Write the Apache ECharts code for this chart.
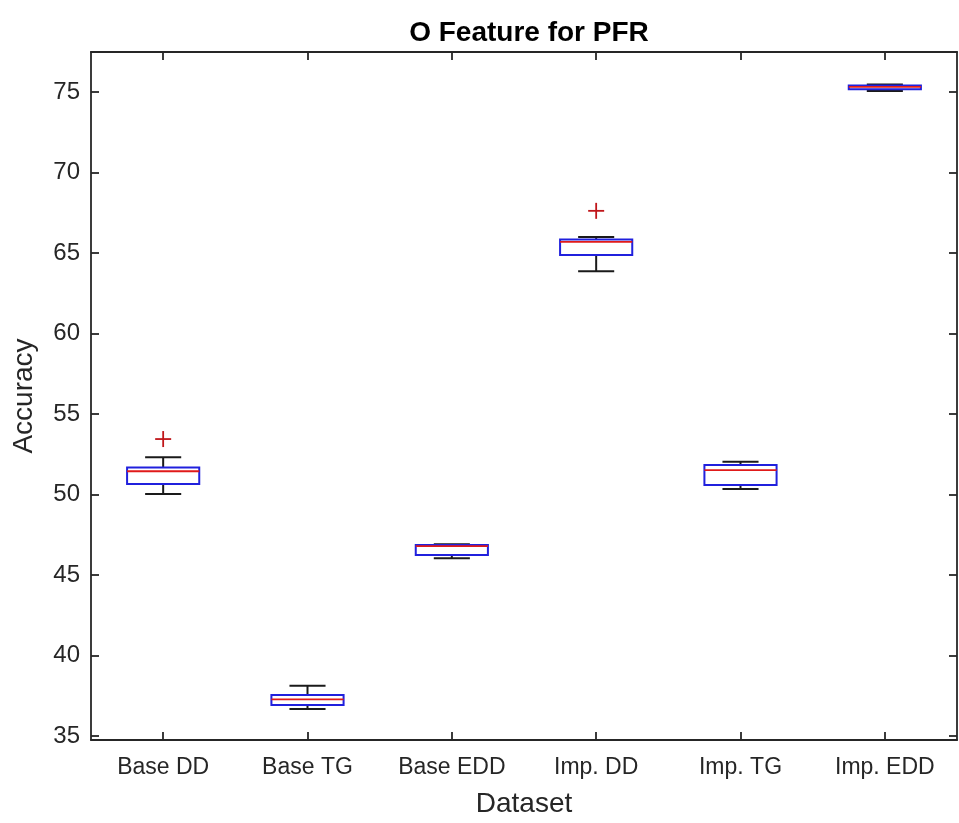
<!DOCTYPE html>
<html>
<head>
<meta charset="utf-8">
<style>
  html, body { margin: 0; padding: 0; background: #fff; }
  #chart { width: 959px; height: 823px; }
</style>
<script src="https://cdn.jsdelivr.net/npm/echarts@6/dist/echarts.min.js"></script>
</head>
<body>
<div id="chart"></div>
<script>
// ---- data ----
var categories = ['Base DD', 'Base TG', 'Base EDD', 'Imp. DD', 'Imp. TG', 'Imp. EDD'];
var lowerWhisker = [50.03, 36.68, 46.04, 63.88, 50.34, 75.08];
var q1 = [50.65, 36.92, 46.25, 64.88, 50.60, 75.18];
var median = [51.45, 37.27, 46.80, 65.70, 51.52, 75.33];
var q3 = [51.68, 37.55, 46.87, 65.85, 51.83, 75.42];
var upperWhisker = [52.32, 38.12, 46.92, 66.00, 52.04, 75.48];
var outlierCat = [0, 3];
var outlierVal = [53.45, 67.63];
var yTicks = [35, 40, 45, 50, 55, 60, 65, 70, 75];

var boxData = categories.map(function (c, i) {
  return [i, lowerWhisker[i], q1[i], median[i], q3[i], upperWhisker[i]];
});
var outlierData = outlierCat.map(function (c, i) { return [c, outlierVal[i]]; });

var FONT = "'Liberation Sans', Arial, Helvetica, sans-serif";
var AXIS_COLOR = '#262626';

function renderBox(params, api) {
  var idx = api.value(0);
  var band = api.size([1, 0])[0];
  var halfBox = band * 0.25;
  var halfCap = band * 0.125;
  var pLo = api.coord([idx, api.value(1)]);
  var pQ1 = api.coord([idx, api.value(2)]);
  var pMed = api.coord([idx, api.value(3)]);
  var pQ3 = api.coord([idx, api.value(4)]);
  var pHi = api.coord([idx, api.value(5)]);
  var cx = pQ1[0];
  var blk = { stroke: '#1a1a1a', lineWidth: 2 };
  return {
    type: 'group',
    children: [
      { type: 'line', shape: { x1: cx, y1: pQ3[1], x2: cx, y2: pHi[1] }, style: blk },
      { type: 'line', shape: { x1: cx, y1: pQ1[1], x2: cx, y2: pLo[1] }, style: blk },
      { type: 'line', shape: { x1: cx - halfCap, y1: pHi[1], x2: cx + halfCap, y2: pHi[1] }, style: blk },
      { type: 'line', shape: { x1: cx - halfCap, y1: pLo[1], x2: cx + halfCap, y2: pLo[1] }, style: blk },
      { type: 'rect', shape: { x: cx - halfBox, y: pQ3[1], width: halfBox * 2, height: pQ1[1] - pQ3[1] },
        style: { fill: '#ffffff', stroke: '#2020dd', lineWidth: 2 } },
      { type: 'line', shape: { x1: cx - halfBox, y1: pMed[1], x2: cx + halfBox, y2: pMed[1] },
        style: { stroke: '#e01a1a', lineWidth: 1.8 } }
    ]
  };
}

function renderOutlier(params, api) {
  var p = api.coord([api.value(0), api.value(1)]);
  var r = 8;
  var st = { stroke: '#c0161a', lineWidth: 1.8 };
  return {
    type: 'group',
    children: [
      { type: 'line', shape: { x1: p[0] - r, y1: p[1], x2: p[0] + r, y2: p[1] }, style: st },
      { type: 'line', shape: { x1: p[0], y1: p[1] - r, x2: p[0], y2: p[1] + r }, style: st }
    ]
  };
}

var chart = echarts.init(document.getElementById('chart'), null, { renderer: 'canvas' });
var axisLineStyle = { color: AXIS_COLOR, width: 1.8 };
chart.setOption({
  backgroundColor: '#ffffff',
  animation: false,
  title: {
    text: 'O Feature for PFR',
    left: 524, top: 14, textAlign: 'center',
    textStyle: { fontFamily: FONT, fontSize: 28, fontWeight: 'bold', color: '#000000' }
  },
  grid: { left: 91, right: 2, top: 52, bottom: 82 },
  xAxis: [{
    type: 'category',
    data: categories,
    position: 'bottom',
    boundaryGap: true,
    name: 'Dataset',
    nameLocation: 'middle',
    nameGap: 50,
    nameTextStyle: { fontFamily: FONT, fontSize: 28, color: AXIS_COLOR },
    axisLine: { show: true, lineStyle: axisLineStyle },
    axisTick: { show: true, inside: true, alignWithLabel: true, length: 8, lineStyle: axisLineStyle },
    axisLabel: { fontFamily: FONT, fontSize: 23, color: AXIS_COLOR, margin: 16, interval: 0 },
    splitLine: { show: false }
  }, {
    type: 'category',
    data: categories,
    position: 'top',
    boundaryGap: true,
    axisLine: { show: true, lineStyle: axisLineStyle },
    axisTick: { show: true, inside: true, alignWithLabel: true, length: 8, lineStyle: axisLineStyle },
    axisLabel: { show: false },
    splitLine: { show: false }
  }],
  yAxis: [{
    type: 'value',
    min: 34.75, max: 77.5,
    position: 'left',
    name: 'Accuracy',
    nameLocation: 'middle',
    nameGap: 53,
    nameRotate: 90,
    nameTextStyle: { fontFamily: FONT, fontSize: 28, color: AXIS_COLOR },
    axisLine: { show: true, lineStyle: axisLineStyle },
    axisTick: { show: true, inside: true, length: 8, customValues: yTicks, lineStyle: axisLineStyle },
    axisLabel: { fontFamily: FONT, fontSize: 24, color: AXIS_COLOR, margin: 11, customValues: yTicks },
    splitLine: { show: false }
  }, {
    type: 'value',
    min: 34.75, max: 77.5,
    position: 'right',
    axisLine: { show: true, lineStyle: axisLineStyle },
    axisTick: { show: true, inside: true, length: 8, customValues: yTicks, lineStyle: axisLineStyle },
    axisLabel: { show: false },
    splitLine: { show: false }
  }],
  series: [{
    type: 'custom',
    xAxisIndex: 0, yAxisIndex: 0,
    renderItem: renderBox,
    data: boxData,
    encode: { x: 0, y: [1, 2, 3, 4, 5] },
    clip: false
  }, {
    type: 'custom',
    xAxisIndex: 0, yAxisIndex: 0,
    renderItem: renderOutlier,
    data: outlierData,
    encode: { x: 0, y: 1 }
  }]
});
</script>
</body>
</html>
